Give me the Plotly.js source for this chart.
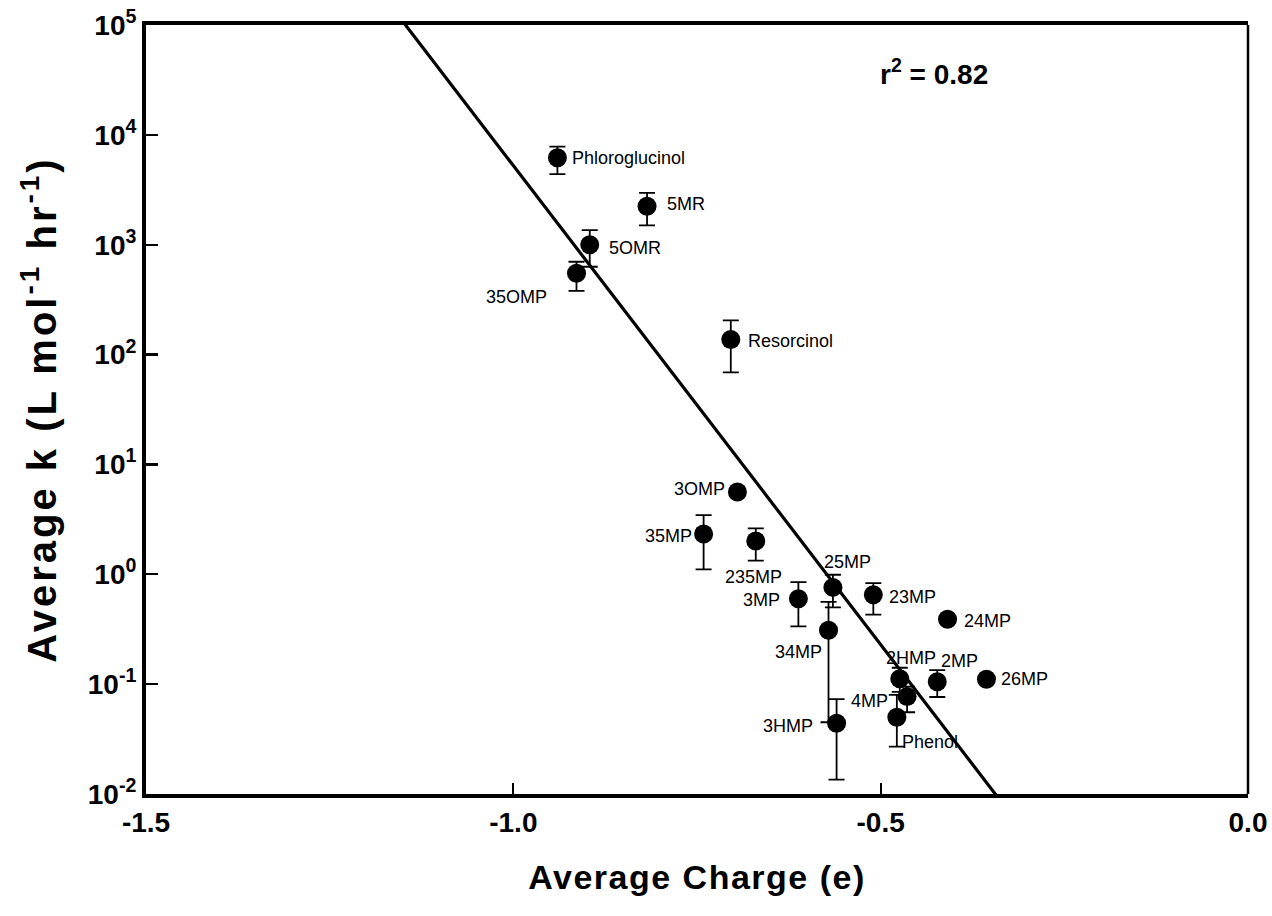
<!DOCTYPE html>
<html><head><meta charset="utf-8">
<script src="https://cdn.plot.ly/plotly-3.0.1.min.js"></script>
<style>
html,body{margin:0;padding:0;background:#fff}
#chart{width:1272px;height:916px}
.js-plotly-plot .xtitle{letter-spacing:1.5px}
.js-plotly-plot .ytitle{letter-spacing:3px}
</style></head><body><div id="chart"></div>
<script>
// ---- data ----
const compounds = ['Phloroglucinol','5MR','5OMR','35OMP','Resorcinol','3OMP','35MP','235MP','3MP','25MP','34MP','3HMP','23MP','24MP','2HMP','4MP','Phenol','2MP','26MP'];
const charge    = [-0.940,-0.818,-0.896,-0.914,-0.704,-0.695,-0.741,-0.670,-0.612,-0.565,-0.571,-0.560,-0.510,-0.409,-0.474,-0.464,-0.478,-0.423,-0.356];
const kAvg      = [6200, 2240, 1000, 550, 137, 5.6, 2.33, 2.01, 0.60, 0.76, 0.31, 0.044, 0.65, 0.39, 0.112, 0.077, 0.050, 0.105, 0.111];
const kHigh     = [7800, 2960, 1360, 700, 205, null, 3.46, 2.62, 0.85, 0.99, 0.56, 0.073, 0.83, null, 0.141, 0.095, 0.080, 0.134, null];
const kLow      = [4400, 1500, 630, 380, 69, null, 1.11, 1.33, 0.336, 0.50, 0.045, 0.0135, 0.43, null, 0.085, 0.0555, 0.027, 0.0764, null];
const fitIntercept = -5.0;   // log10 k = a + b * charge
const fitSlope = -8.72;
const rSquared = 0.82;
const xTickVals = [-1.5, -1.0, -0.5, 0.0];
const xTickText = ['-1.5', '-1.0', '-0.5', '0.0'];
const yTickVals = [1e-2, 1e-1, 1e0, 1e1, 1e2, 1e3, 1e4, 1e5];
const yTickText = ['10<sup>-2</sup>','10<sup>-1</sup>','10<sup>0</sup>','10<sup>1</sup>','10<sup>2</sup>','10<sup>3</sup>','10<sup>4</sup>','10<sup>5</sup>'];

// ---- label placement (style only) ----
const labelAnchor = ['left','left','left','right','left','right','right','center','right','center','right','right','left','left','center','right','left','center','left'];
const labelDx     = [13, 18, 17, -28, 15, -10, -10, -2, -16, 15, -5, -22, 14, 14, 11, -17, 3, 22, 13];
const labelDy     = [0, 2, -3, -24, -1, 3, -2, -36, -1, 25, -22, -3, -2, -2, 21, -4, -25, 21, 0];

const FONT = 'Liberation Sans, Arial, Helvetica, sans-serif';

const errPlus  = kAvg.map((v, i) => kHigh[i] == null ? 0 : kHigh[i] - v);
const errMinus = kAvg.map((v, i) => kLow[i] == null ? 0 : v - kLow[i]);

const fitX = [xTickVals[0], xTickVals[xTickVals.length - 1]];
const fitY = fitX.map(x => Math.pow(10, fitIntercept + fitSlope * x));

const traces = [
  {
    x: fitX, y: fitY, mode: 'lines', type: 'scatter',
    line: {color: '#000', width: 3.2}, hoverinfo: 'skip', showlegend: false
  },
  {
    x: charge, y: kAvg, mode: 'markers', type: 'scatter', text: compounds,
    marker: {color: '#000', size: 19},
    error_y: {type: 'data', symmetric: false, array: errPlus, arrayminus: errMinus,
              color: '#000', thickness: 1.8, width: 8},
    showlegend: false
  }
];

const annotations = compounds.map((name, i) => ({
  x: charge[i], y: Math.log10(kAvg[i]), xref: 'x', yref: 'y',
  text: name, showarrow: false, xanchor: labelAnchor[i], yanchor: 'middle',
  xshift: labelDx[i], yshift: labelDy[i],
  font: {family: FONT, size: 18, color: '#000'}
}));
annotations.push({
  x: 0.715, y: 0.939, xref: 'paper', yref: 'paper', showarrow: false,
  text: 'r<sup>2</sup> = ' + rSquared.toFixed(2), xanchor: 'center', yanchor: 'middle',
  font: {family: FONT, size: 28, color: '#000', weight: 'bold'}
});

const layout = {
  width: 1272, height: 916,
  margin: {l: 146, r: 24, t: 25, b: 122},
  paper_bgcolor: '#fff', plot_bgcolor: '#fff',
  font: {family: FONT, color: '#000'},
  xaxis: {
    range: [-1.5, 0], tickvals: xTickVals, ticktext: xTickText,
    showgrid: false, zeroline: false,
    showline: true, linewidth: 4, linecolor: '#000', mirror: true,
    ticks: 'inside', ticklen: 11, tickwidth: 2.2, tickcolor: '#000',
    tickfont: {family: FONT, size: 28, weight: 'bold'},
    title: {text: 'Average Charge (e)', font: {family: FONT, size: 34, weight: 'bold'}, standoff: 30}
  },
  yaxis: {
    type: 'log', range: [-2, 5], tickvals: yTickVals, ticktext: yTickText,
    showgrid: false, zeroline: false,
    showline: true, linewidth: 4, linecolor: '#000',
    ticks: 'inside', ticklen: 12, tickwidth: 2.2, tickcolor: '#000',
    tickfont: {family: FONT, size: 28, weight: 'bold'},
    title: {text: 'Average k (L mol<sup>-1</sup> hr<sup>-1</sup>)', font: {family: FONT, size: 40, weight: 'bold'}, standoff: 20}
  },
  shapes: [
    {type: 'line', xref: 'paper', yref: 'paper', x0: 1, x1: 1, y0: 0, y1: 1,
     line: {color: '#000', width: 2.5}}
  ],
  annotations: annotations
};

Plotly.newPlot('chart', traces, layout, {displayModeBar: false, staticPlot: true});
</script></body></html>
